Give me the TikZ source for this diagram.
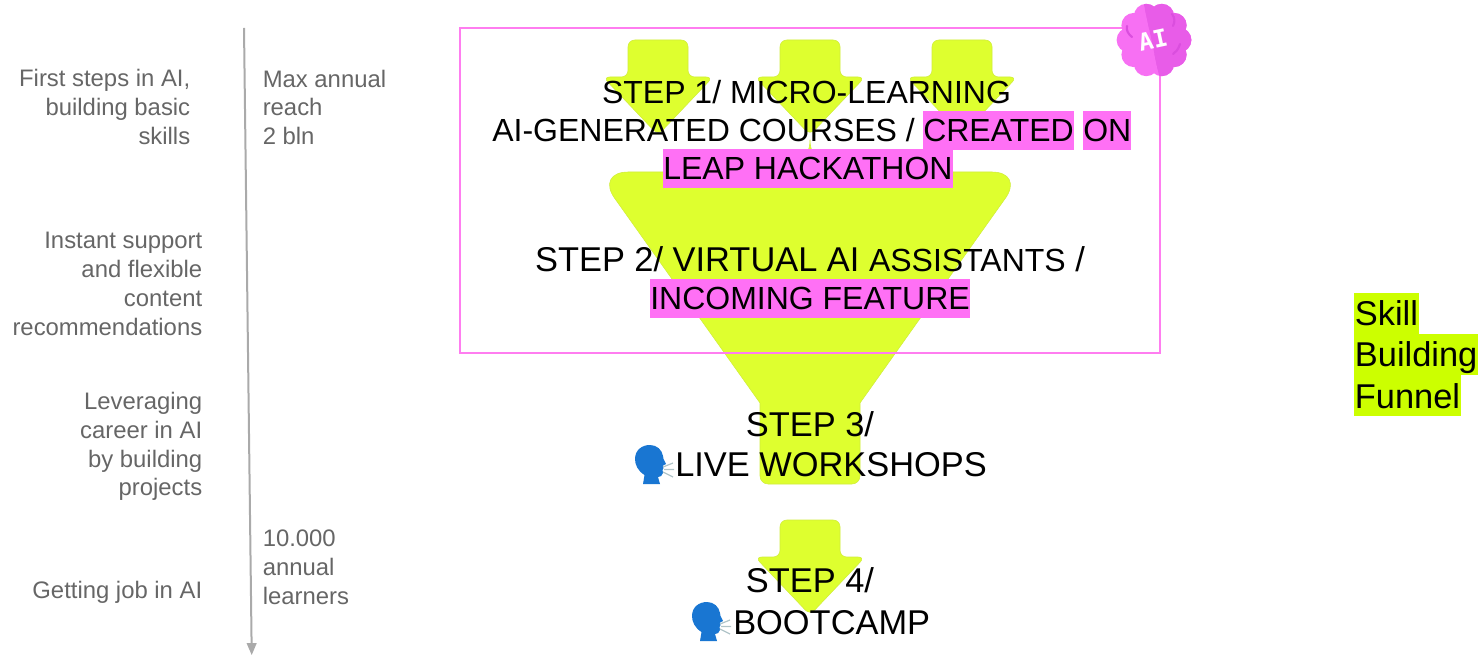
\documentclass[tikz,border=0pt]{standalone}
\usepackage{fontspec}
\setmainfont{Liberation Sans}
\newfontfamily\badgefont{DejaVu Sans Mono}
\definecolor{lime}{RGB}{222,255,47}
\definecolor{skillc}{RGB}{204,255,0}
\definecolor{hotpink}{RGB}{255,112,245}
\definecolor{framepink}{RGB}{255,125,240}
\definecolor{brainlight}{RGB}{247,112,243}
\definecolor{braindark}{RGB}{232,92,232}
\definecolor{brainmark}{RGB}{218,78,222}
\definecolor{sidegray}{RGB}{102,102,102}
\definecolor{axisgray}{RGB}{170,170,170}
\definecolor{headblue}{RGB}{25,118,210}
\definecolor{soundgray}{RGB}{176,196,200}
\tikzset{
  x=0.75pt,y=-0.75pt,
  shapefill/.style={fill=lime,draw=lime!85!gray,line width=0.4pt,line join=round},
  steptext/.style={anchor=base west,inner sep=0pt,font=\fontsize{24pt}{29pt}\selectfont,text=black},
  stepmid/.style={anchor=base,inner sep=0pt,font=\fontsize{24pt}{29pt}\selectfont,text=black},
  bigwest/.style={anchor=base west,inner sep=0pt,font=\fontsize{25.8pt}{31pt}\selectfont,text=black},
  bigmid/.style={anchor=base,inner sep=0pt,font=\fontsize{25.8pt}{31pt}\selectfont,text=black},
  hlbox/.style={anchor=base west,fill=hotpink,inner ysep=0pt,inner xsep=0pt,text height=23.2pt,text depth=6pt,font=\fontsize{24pt}{29pt}\selectfont,text=black},
  sideleft/.style={anchor=north east,align=right,inner sep=0pt,text=sidegray,font=\fontsize{17.9pt}{21.6pt}\selectfont},
  sideright/.style={anchor=north west,align=left,inner sep=0pt,text=sidegray,font=\fontsize{17.9pt}{21.6pt}\selectfont},
  skillbox/.style={anchor=base west,fill=skillc,inner sep=0pt,inner xsep=0.5pt,text height=24.75pt,text depth=6pt,font=\fontsize{25.8pt}{31pt}\selectfont,text=black},
  downarrow/.pic={
    \draw[shapefill,rounded corners=5pt] (-30,0)--(30,0)--(30,37)--(55,37)--(0,95)--(-55,37)--(-30,37)--cycle;
  },
  speakhead/.pic={
    \fill[headblue] (8,39)--(9.5,30) .. controls (3,26) and (0,20) .. (0,14)
      .. controls (0,5) and (7,0) .. (15,0)
      .. controls (22,0) and (27,5) .. (28,11) -- (28.5,14) -- (31,19) -- (28,20.5) -- (28.5,23) -- (27.5,25) -- (28,28)
      .. controls (27.5,31) and (25,32) .. (23,32) -- (25,39) -- cycle;
    \draw[soundgray,line width=0.9pt] (28,22)--(38,18) (29,24.5)--(39,24.5) (28,27)--(38,32);
  }
}
\begin{document}
\begin{tikzpicture}
\useasboundingbox (0,0) rectangle (1480,655);
% funnel and arrows
\draw[shapefill] (810,172) [rounded corners=24pt] -- (1024,172) [sharp corners] -- (860,403) [rounded corners=6pt] -- (860,484) -- (760,484) [sharp corners] -- (760,403) [rounded corners=24pt] -- (596,172) -- (810,172) -- cycle;
\pic at (658,40) {downarrow};
\pic at (810,40) {downarrow};
\pic at (962,40) {downarrow};
\pic at (810,520) {downarrow};
% frame
\draw[framepink,line width=1.5pt] (460,28) rectangle (1160,353);
% side labels
\node[sideleft] (l1) at (190.5,69) {First steps in AI,\\building basic\\skills};
\node[sideleft] (l2) at (202.5,232) {Instant support\\and flexible\\content\\recommendations};
\node[sideleft] (l3) at (202.5,392) {Leveraging\\career in AI\\by building\\projects};
\node[sideleft] (l4) at (202.5,581) {Getting job in AI};
\node[sideright] (r1) at (262.5,69.5) {Max annual\\reach\\2 bln};
\node[sideright] (r2) at (262.5,530) {10.000\\annual\\learners};
% axis
\coordinate (axtop) at (244,28);
\coordinate (axend) at (251.7,655);
\draw[axisgray,line width=1.5pt] (axtop)--(251.6,645);
\fill[axisgray] (axend)--(246.5,643)--(256.8,643)--cycle;
% step 1
\node[stepmid] (s1a) at (806.5,103.5) {STEP 1/ MICRO-LEARNING};
\node[steptext] (s1b) at (492,142) {AI-GENERATED COURSES /};
\node[hlbox] (s1c) at (923,142) {CREATED};
\node[hlbox] (s1d) at (1083,142) {ON};
\node[hlbox] (s1e) at (663,180) {LEAP HACKATHON};
% step 2
\node[bigmid] (s2a) at (810,272) {STEP 2/ VIRTUAL AI {\fontsize{24pt}{29pt}\selectfont ASSISTANTS} /};
\node[hlbox] (s2b) at (650,310) {INCOMING FEATURE};
% step 3
\node[bigmid] (s3a) at (810,436) {STEP 3/};
\node[bigwest] (s3b) at (675,476.5) {LIVE WORKSHOPS};
\pic at (635,445) {speakhead};
% step 4
\node[bigmid] (s4a) at (810,592.5) {STEP 4/};
\node[bigwest] (s4b) at (733,634) {BOOTCAMP};
\pic at (692,602) {speakhead};
% skill funnel label
\node[skillbox] (f1) at (1354,326) {Skill};
\node[skillbox] (f2) at (1354,367) {Building};
\node[skillbox] (f3) at (1354,408) {Funnel};
% badge
\fill[brainlight] (1154,40) circle[radius=24pt];
\foreach \a in {0,36,...,324}{\fill[brainlight] (1154,40) ++(\a:25) circle[radius=9.3pt];}
\begin{scope}
  \clip (1143,0)--(1160,80)--(1200,80)--(1200,0)--cycle;
  \fill[braindark] (1154,40) circle[radius=24pt];
  \foreach \a in {0,36,...,324}{\fill[braindark] (1154,40) ++(\a:25) circle[radius=9.3pt];}
\end{scope}
\draw[brainmark,line width=1.6pt,line cap=round] (1172,14)..controls (1175,18) and (1175,22)..(1173,26) (1180,44)..controls (1178,50) and (1176,52)..(1173,54) (1132,37)..controls (1128,34) and (1126,30)..(1127,26);
\node[rotate=12,text=white,inner sep=0pt,font=\badgefont\bfseries\fontsize{18pt}{18pt}\selectfont] (ai) at (1153,40) {AI};
\end{tikzpicture}
\end{document}
